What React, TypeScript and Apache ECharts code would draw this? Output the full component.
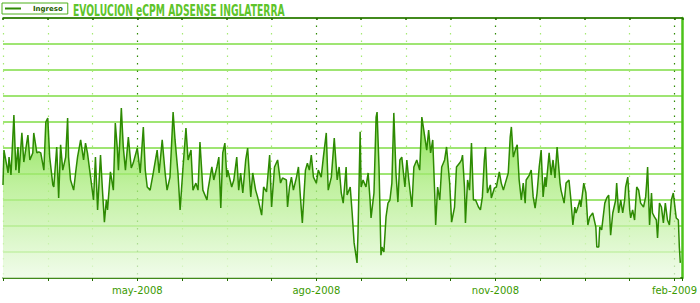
import React, { useEffect, useRef } from "react";
import * as echarts from "echarts";

// Days counted from 2008-02-22 (day 0); one grid step = 23 days
const sampleDays: number[] = [
  0, 0.5, 2.6, 3.1, 4.1, 5.6, 6.6, 7.7, 8.2, 9.7,
  10.7, 12.8, 13.8, 15.3, 15.8, 17.4, 18.4, 19.4, 21.0, 22.0,
  23.0, 24.0, 25.6, 26.1, 27.6, 28.6, 29.6, 30.7, 32.2, 33.2,
  33.7, 34.7, 36.3, 37.3, 38.3, 39.9, 41.4, 42.4, 43.4, 45.0,
  46.5, 47.5, 48.6, 50.1, 51.1, 52.1, 53.1, 53.7, 55.2, 56.7,
  57.7, 58.8, 59.3, 60.8, 61.8, 62.9, 64.4, 65.9, 66.9, 69.0,
  70.5, 72.1, 73.1, 74.1, 75.6, 77.2, 79.2, 80.2, 81.8, 83.3,
  84.3, 85.8, 87.4,
  88.4, 89.9, 91.0, 92.5, 94.0, 95.1, 96.6, 97.6, 99.1, 100.2,
  101.2, 102.7, 104.8, 105.3, 107.3, 108.3, 109.9, 110.9, 111.9, 112.9,
  114.0, 115.0, 115.5, 117.5, 118.6, 120.1, 121.1, 122.1, 123.2, 124.7,
  125.7, 127.3, 128.3, 129.8, 130.8, 132.9, 133.9, 135.4, 137.0, 138.0,
  139.5, 141.1, 142.6, 143.6, 145.6, 146.2, 147.2, 148.2, 149.2, 150.8,
  151.8, 152.8, 153.8, 155.4, 156.4, 157.4, 158.4, 159.5, 161.0, 162.0,
  163.5, 164.6, 166.1, 167.1, 168.7, 170.2, 171.7, 172.7, 173.8, 174.8,
  176.3, 176.8, 178.4, 179.4, 180.4, 181.9, 182.4, 183.5, 184.0, 185.0,
  186.5, 187.6, 188.6, 189.1, 190.6, 191.7, 192.2, 193.2, 194.2, 194.7,
  195.7, 196.8, 197.8, 198.8, 199.8, 200.8, 201.9, 202.9, 203.9, 204.9,
  206.5, 207.5, 208.5, 210.1, 211.1, 212.6, 214.1, 215.2, 216.2, 217.7,
  218.7, 219.7, 220.8, 221.8, 222.3, 223.3, 224.4, 225.4, 226.9, 227.9,
  229.5, 230.5, 232.0, 233.0, 234.6,
  235.6, 236.1, 237.1, 237.6, 238.7, 239.7, 240.7, 241.7, 242.8, 244.3,
  245.3, 246.3, 247.3, 247.9, 248.9, 250.4, 250.9, 252.5, 253.5, 255.0,
  256.0, 257.1, 258.1, 259.6, 260.6, 261.2, 262.2, 263.2, 264.2, 265.2,
  266.3, 267.3, 268.3, 268.8, 270.4, 271.4, 272.4, 273.4, 274.4, 275.5,
  276.5, 277.5, 278.5, 279.0, 280.6, 281.6, 282.6, 283.6, 284.7, 286.2,
  286.7, 288.3, 289.3, 290.8, 291.8, 292.8, 293.8, 294.4,
  295.4, 296.4, 296.9, 298.4, 299.5, 300.5, 301.5, 303.0, 304.6, 305.1,
  306.1, 306.6, 307.6, 309.2, 310.2, 311.2, 312.2, 313.3, 314.8, 315.3,
  316.3, 317.4, 318.4, 319.4, 319.9, 321.0, 322.0, 322.5, 323.5, 324.5,
  325.6, 326.6, 327.6, 329.1, 330.2, 330.7, 331.2, 332.2, 333.2, 333.7,
  334.7, 335.7, 336.3, 337.3, 338.3, 339.3, 340.3, 341.4, 342.4, 343.4,
  344.4, 345.4, 345.9, 347.0, 347.5, 348.0,
];

const ingreso: number[] = [
  3.58, 4.92, 4.04, 4.65, 3.96, 6.27, 4.15, 5.04, 4.04, 5.58,
  4.46, 5.5, 4.54, 4.81, 5.58, 4.81, 4.85, 4.81, 4.15, 6.0,
  6.15, 4.65, 3.58, 3.5, 5.04, 3.08, 5.12, 4.15, 4.65, 6.15,
  4.65, 3.77, 3.38, 4.04, 4.65, 5.31, 4.54, 5.19, 4.81, 3.88,
  3.0, 4.65, 2.62, 4.73, 3.38, 2.15, 3.0, 2.62, 4.08, 3.38,
  5.96, 4.92, 4.15, 6.54, 5.04, 4.15, 5.42, 4.23, 4.42, 5.0,
  4.04, 5.81, 4.15, 3.5, 3.38, 4.04, 4.92, 4.04, 5.31, 4.04,
  3.38, 3.88, 6.38,
  5.31, 4.04, 2.62, 4.27, 5.77, 4.54, 4.92, 3.38, 3.65, 3.38,
  5.23, 3.38, 3.0, 3.38, 4.27, 3.77, 4.27, 4.65, 2.69, 4.81,
  5.19, 3.88, 4.15, 3.5, 3.77, 4.65, 3.38, 4.04, 3.27, 4.54,
  5.0, 3.12, 4.04, 3.38, 3.12, 2.42, 3.5, 3.31, 4.73, 2.73,
  4.27, 4.54, 3.65, 3.85, 3.77, 2.73, 3.5, 3.88, 3.38, 3.88,
  4.27, 3.12, 2.12, 4.15, 4.42, 4.15, 4.73, 3.88, 3.65, 4.15,
  3.88, 4.65, 5.58, 3.38, 3.88, 5.38, 3.77, 4.27, 3.27, 2.88,
  4.27, 3.19, 3.5, 2.5, 1.35, 0.58, 1.73, 5.62, 3.5, 3.77,
  3.5, 4.04, 3.0, 2.31, 3.27, 6.19, 6.38, 4.27, 0.88, 1.19,
  1.0, 2.35, 2.88, 3.0, 3.65, 6.35, 4.04, 2.92, 4.54, 4.65,
  3.5, 4.54, 3.77, 2.73, 4.27, 4.54, 4.15, 6.19, 5.69, 4.92,
  5.69, 4.81, 5.31, 3.27, 2.04, 3.5, 3.0, 4.27, 4.54, 5.04,
  3.65, 2.15, 2.73, 4.27, 4.42,
  4.54, 4.73, 3.5, 2.12, 3.77, 3.38, 5.19, 3.0, 3.0, 2.73,
  2.62, 3.12, 4.54, 5.04, 3.27, 3.58, 3.08, 3.46, 3.5, 4.08,
  3.65, 3.38, 3.65, 4.04, 5.42, 5.81, 4.65, 4.92, 5.12, 3.77,
  3.0, 3.65, 2.88, 3.77, 3.96, 4.15, 3.12, 2.69, 3.27, 4.27,
  4.92, 3.12, 3.88, 3.5, 4.81, 3.96, 4.54, 3.85, 5.04, 3.65,
  3.38, 2.88, 3.65, 3.77, 3.0, 2.04, 2.73, 2.5,
  2.73, 3.0, 2.73, 3.65, 3.27, 2.04, 2.35, 2.5, 1.96, 1.19,
  1.19, 1.96, 1.85, 2.88, 3.08, 3.19, 1.65, 2.5, 3.0, 3.65,
  2.5, 3.0, 2.5, 3.0, 3.5, 3.88, 2.62, 2.31, 2.62, 2.23,
  3.5, 3.38, 2.88, 2.73, 3.12, 3.65, 4.27, 2.04, 3.27, 2.5,
  2.35, 2.23, 1.54, 2.88, 2.73, 2.12, 2.88, 2.23, 2.04, 3.0,
  3.27, 2.62, 2.31, 2.23, 1.19, 0.58,
];

const labelDays: number[] = [69, 161, 253, 345];
const labelNames: string[] = ["may-2008", "ago-2008", "nov-2008", "feb-2009"];
const seriesName = "Ingreso";
const titleText = "EVOLUCION eCPM ADSENSE INGLATERRA";

const X_MIN = 0;
const X_MAX = 349;
const X_STEP = 23;
const Y_MIN = 0;
const Y_MAX = 10;
const Y_STEP = 1;

export default function App() {
  const ref = useRef<HTMLDivElement>(null);

  useEffect(() => {
    document.body.style.margin = "0";
    if (!ref.current) return;
    const chart = echarts.init(ref.current, undefined, { renderer: "svg" });
    const data = sampleDays.map((d, i) => [d, ingreso[i]]);
    const light = "#a5ea74";
    const dark = "#2f8a05";

    chart.setOption({
      animation: false,
      backgroundColor: "#ffffff",
      legend: {
        show: true,
        left: 2,
        top: 3,
        orient: "horizontal",
        padding: [1, 5, 1, 3],
        borderColor: "#4cb01a",
        borderWidth: 1,
        itemWidth: 16,
        itemHeight: 2,
        itemGap: 0,
        icon: "rect",
        data: [{ name: seriesName, itemStyle: { color: "#2f8a05" } }],
        textStyle: {
          fontSize: 7,
          fontWeight: "bold",
          color: "#1f5f00",
          fontFamily: "DejaVu Sans",
          padding: [0, 0, 0, 7],
          lineHeight: 9,
        },
      },
      graphic: [
        {
          type: "text",
          x: 73,
          y: 3,
          scaleX: 0.615,
          style: {
            text: titleText,
            font: 'bold 15px "DejaVu Sans"',
            fill: "#5ec42a",
            verticalAlign: "top",
            align: "left",
          },
        },
      ],
      grid: { left: 2, right: 16, top: 18, bottom: 25 },
      xAxis: [
        {
          type: "value",
          position: "bottom",
          min: X_MIN,
          max: X_MAX,
          interval: X_STEP,
          axisLine: { show: true, onZero: false, lineStyle: { color: "#236b00", width: 1.5 } },
          axisTick: { show: true, inside: false, length: 3, lineStyle: { color: "#236b00", width: 1 } },
          axisLabel: {
            show: true,
            margin: 7,
            color: "#3a9a00",
            fontSize: 10,
            fontFamily: "DejaVu Sans",
            formatter: (v: number) => {
              const i = labelDays.indexOf(Math.round(v));
              return i >= 0 ? labelNames[i] : "";
            },
          },
          splitLine: {
            show: true,
            lineStyle: { color: [light, light, light, dark], type: [1.5, 6], width: 1.2 },
          },
        },
        {
          type: "value",
          position: "top",
          min: X_MIN,
          max: X_MAX,
          interval: X_STEP,
          axisLine: { show: true, onZero: false, lineStyle: { color: "#236b00", width: 1.5 } },
          axisTick: { show: true, inside: true, length: 2, lineStyle: { color: "#236b00", width: 1.5 } },
          axisLabel: { show: false },
          splitLine: { show: false },
        },
      ],
      yAxis: [
        {
          type: "value",
          position: "left",
          min: Y_MIN,
          max: Y_MAX,
          interval: Y_STEP,
          axisLine: { show: false, onZero: false },
          axisTick: { show: false },
          axisLabel: { show: false },
          splitLine: { show: true, lineStyle: { color: "#7fdc45", width: 1.5 } },
        },
        {
          type: "value",
          position: "right",
          min: Y_MIN,
          max: Y_MAX,
          interval: Y_STEP,
          axisLine: { show: true, onZero: false, lineStyle: { color: "#4cc21a", width: 2.5 } },
          axisTick: { show: false },
          axisLabel: { show: false },
          splitLine: { show: false },
        },
      ],
      series: [
        {
          name: seriesName,
          type: "line",
          xAxisIndex: 0,
          yAxisIndex: 0,
          data,
          showSymbol: false,
          symbol: "none",
          lineStyle: { color: "#2d8a02", width: 1.5 },
          itemStyle: { color: "#2f8a05" },
          areaStyle: {
            opacity: 1,
            color: new echarts.graphic.LinearGradient(0, 0, 0, 1, [
              { offset: 0, color: "rgba(110,218,40,0.85)" },
              { offset: 0.45, color: "rgba(170,236,125,0.75)" },
              { offset: 1, color: "rgba(236,251,228,0.75)" },
            ]),
          },
        },
      ],
    });

    return () => chart.dispose();
  }, []);

  return <div ref={ref} style={{ width: 700, height: 303 }} />;
}
